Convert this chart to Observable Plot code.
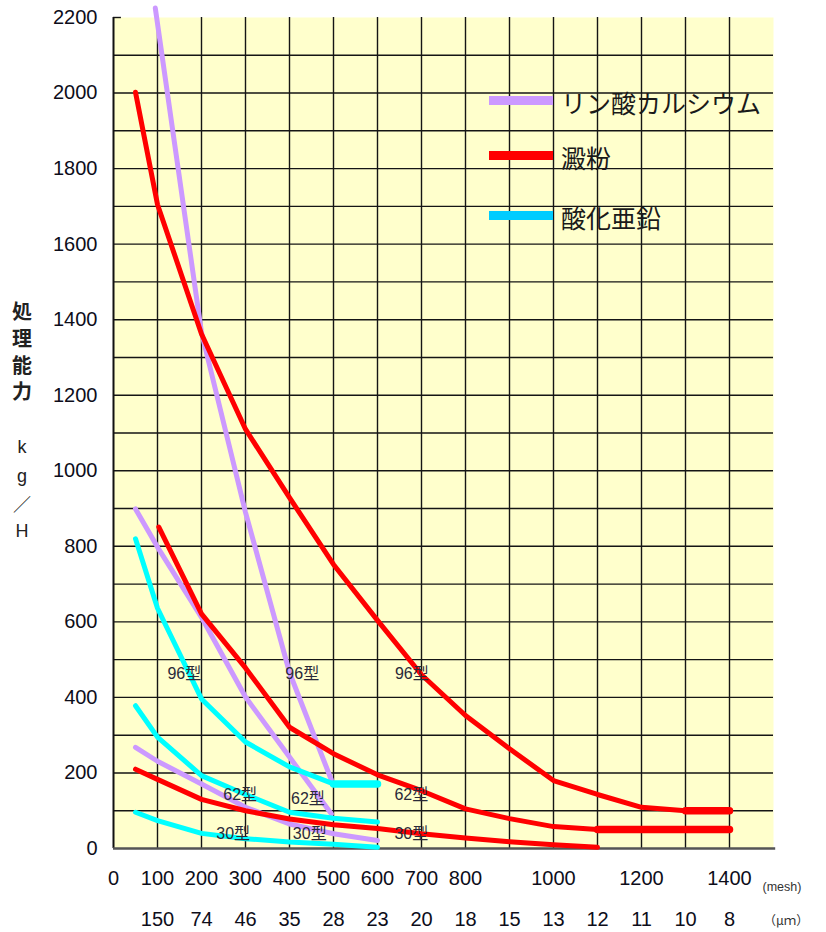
<!DOCTYPE html>
<html><head><meta charset="utf-8">
<script src="https://cdn.jsdelivr.net/npm/d3@7"></script>
<script src="https://cdn.jsdelivr.net/npm/@observablehq/plot@0.6"></script>
<style>
html,body{margin:0;padding:0;background:#fff;}
#wrap{position:relative;width:826px;height:932px;overflow:hidden;}
#wrap svg{display:block;}
.ov{position:absolute;font-family:"Noto Sans CJK JP",sans-serif;color:#1a1a1a;white-space:nowrap;}
.ytitle{left:10px;top:298px;width:24px;font-size:20px;line-height:26.8px;text-align:center;font-weight:bold;color:#222;}
.ytitle .lat{font-family:"Liberation Sans",sans-serif;font-weight:normal;font-size:18px;}
.ytitle .sl{font-weight:normal;font-size:18px;}
.lg-line{position:absolute;width:64px;height:9px;}
.lg-text{position:absolute;font-size:25px;line-height:30px;font-family:"Noto Sans CJK JP",sans-serif;color:#1a1a1a;}
</style></head><body><div id="wrap"></div>
<script>
// ---- axes / tick labels ----
const meshTicks = [0,100,200,300,400,500,600,700,800,1000,1200,1400];
const umMesh = [100,200,300,400,500,600,700,800,900,1000,1100,1200,1300,1400];
const umLabels = ["150","74","46","35","28","23","20","18","15","13","12","11","10","8"];
const yTicks = [0,200,400,600,800,1000,1200,1400,1600,1800,2000,2200];
const gridX = [100,200,300,400,500,600,700,800,900,1000,1100,1200,1300,1400];
const gridY = [100,200,300,400,500,600,700,800,900,1000,1100,1200,1300,1400,1500,1600,1700,1800,1900,2000,2100];

// ---- series ----
const seriesNames = ["リン酸カルシウム","澱粉","酸化亜鉛"];
const lineColors = ["#CC99FF","#FF0000","#00FFFF"];
const legendColors = ["#CC99FF","#FF0000","#00CCFF"];

// リン酸カルシウム
const caMesh96 = [95,200,300,400,495];
const caVal96  = [2225,1366,890,466,182];
const caMesh62 = [50,100,200,300,400,495];
const caVal62  = [899,798,612,401,242,92];
const caMesh30 = [50,100,200,300,400,500,600];
const caVal30  = [268,231,171,109,65,39,21];
// 澱粉
const stMesh96 = [50,100,200,300,400,500,600,700,800,900,1000,1100,1200,1300,1400];
const stVal96  = [2002,1705,1362,1110,929,752,604,460,352,264,180,143,109,100,100];
const stMesh62 = [103,200,300,400,500,600,700,800,900,1000,1100,1400];
const stVal62  = [851,621,478,321,251,195,153,105,79,58,50,50];
const stMesh30 = [50,100,200,300,400,500,600,700,800,900,1000,1100];
const stVal30  = [210,183,130,100,78,63,53,39,28,18,10,3];
// 酸化亜鉛
const znMesh96 = [50,100,200,300,400,500,600];
const znVal96  = [820,636,396,282,216,171,171];
const znMesh62 = [50,100,200,300,400,500,600];
const znVal62  = [378,295,193,143,96,80,70];
const znMesh30 = [50,100,200,300,400,500,600];
const znVal30  = [96,74,40,26,17,11,3];

// type labels
const typeLabels = ["96型","96型","96型","62型","62型","62型","30型","30型","30型"];
const labelMesh  = [161,429,678,288,442,677,272,446,677];
const labelVal   = [463,463,463,143,132,143,40,40,40];

const curves = [
  {s:0, mesh:caMesh96, val:caVal96},
  {s:0, mesh:caMesh62, val:caVal62},
  {s:0, mesh:caMesh30, val:caVal30},
  {s:1, mesh:stMesh96, val:stVal96},
  {s:1, mesh:stMesh62, val:stVal62},
  {s:1, mesh:stMesh30, val:stVal30},
  {s:2, mesh:znMesh96, val:znVal96},
  {s:2, mesh:znMesh62, val:znVal62},
  {s:2, mesh:znMesh30, val:znVal30}
].map(c => ({...c, rows: c.mesh.map((m,i)=>({mesh:m, value:c.val[i]}))}));

const lineMarks = [];
curves.forEach(c => {
  lineMarks.push(Plot.line(c.rows, {x:"mesh", y:"value", stroke:lineColors[c.s], strokeWidth:5, strokeLinejoin:"round", strokeLinecap:"round"}));
});
curves.forEach(c => {
  const last = c.rows[c.rows.length-1].value;
  const tail = c.rows.filter(r => r.value === last);
  if (tail.length > 1) lineMarks.push(Plot.line(tail, {x:"mesh", y:"value", stroke:lineColors[c.s], strokeWidth:7.5, strokeLinecap:"round"}));
});

const labels = typeLabels.map((t,i)=>({t, mesh:labelMesh[i], value:labelVal[i]}));
const numFont = "Liberation Sans, Arial, Noto Sans CJK JP, sans-serif";

const chart = Plot.plot({
  width: 826, height: 932,
  marginLeft: 113, marginRight: 53, marginTop: 17, marginBottom: 84,
  style: {background:"#fff", fontFamily: numFont, overflow:"visible"},
  x: {domain:[0,1500], axis:null},
  y: {domain:[0,2200], axis:null},
  marks: [
    Plot.frame({fill:"#FFFFCC", stroke:"none"}),
    Plot.ruleX(gridX, {stroke:"#151515", strokeWidth:1.4}),
    Plot.ruleY(gridY, {stroke:"#151515", strokeWidth:1.4}),
    Plot.ruleY([2200], {x1:0, x2:18, stroke:"#151515", strokeWidth:1.4}),
    Plot.ruleX([0], {stroke:"#111", strokeWidth:2}),
    Plot.ruleY([0], {x1:0, x2:1505, stroke:"#555", strokeWidth:2.5}),
    ...lineMarks,
    Plot.text(labels, {x:"mesh", y:"value", text:"t", fontSize:16, fill:"#2a2a3a", fontFamily:numFont}),
    Plot.text(yTicks, {x:0, y:d=>d, text:d=>String(d), textAnchor:"end", dx:-16, fontSize:20, fill:"#0d0d1a"}),
    Plot.text(meshTicks, {x:d=>d, y:0, text:d=>String(d), dy:30, fontSize:20, fill:"#0d0d1a"}),
    Plot.text(umMesh, {x:d=>d, y:0, text:(d,i)=>umLabels[i], dy:71, fontSize:20, fill:"#0d0d1a"}),
    Plot.text(["(mesh)"], {x:1500, y:0, text:d=>d, textAnchor:"start", dx:-11, dy:38, fontSize:12.5, fill:"#333"}),
    Plot.text(["（μｍ）"], {x:1500, y:0, text:d=>d, textAnchor:"start", dx:-10, dy:72, fontSize:12.5, fill:"#333", fontFamily:"Noto Sans CJK JP, sans-serif"})
  ]
});
const wrap = document.getElementById("wrap");
wrap.appendChild(chart);

// y-axis title (vertical)
const yt = document.createElement("div");
yt.className = "ov ytitle";
yt.innerHTML = "処<br>理<br>能<br>力<br><br><span class='lat'>k</span><br><span class='lat'>g</span><br><span class='sl'>／</span><br><span class='lat'>H</span>";
wrap.appendChild(yt);

// legend
const legendY = [100,155,215];
seriesNames.forEach((n,i)=>{
  const l = document.createElement("div");
  l.className = "lg-line";
  l.style.left = "489px"; l.style.top = (legendY[i]-4.5)+"px";
  l.style.background = legendColors[i];
  wrap.appendChild(l);
  const t = document.createElement("div");
  t.className = "lg-text";
  t.textContent = n;
  t.style.left = "561px"; t.style.top = (legendY[i]+2-15)+"px";
  wrap.appendChild(t);
});
</script></body></html>
